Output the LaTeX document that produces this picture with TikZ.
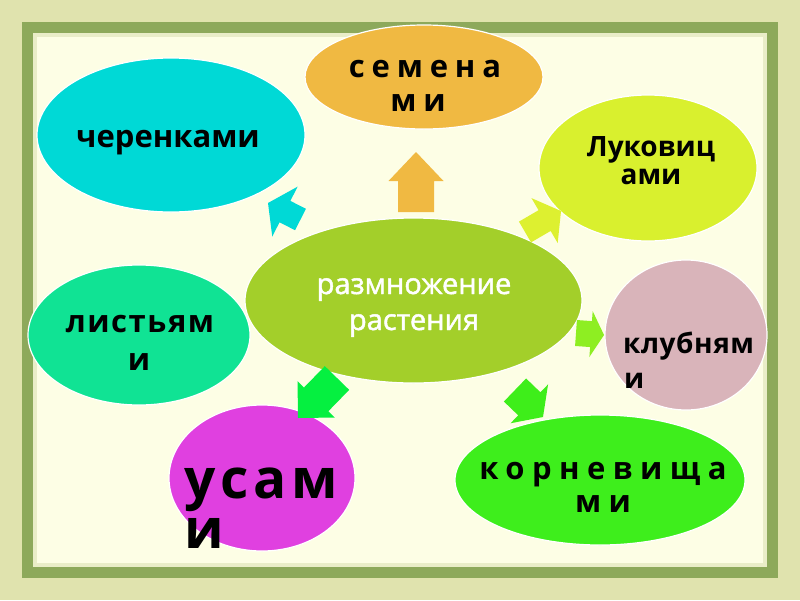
\documentclass[tikz,border=0pt]{standalone}
\usepackage{fontspec}
\setmainfont{Open Sans}
\usetikzlibrary{calc,shapes.geometric}
\definecolor{bgpat}{HTML}{E0E3AE}
\definecolor{frame}{HTML}{8DA95B}
\definecolor{bevel}{HTML}{E9EDC8}
\definecolor{panel}{HTML}{FDFEE5}
\definecolor{cCyan}{HTML}{00D9D6}
\definecolor{cOrange}{HTML}{F0B942}
\definecolor{cYellow}{HTML}{D9F02E}
\definecolor{cCenter}{HTML}{A3CF2A}
\definecolor{cTeal}{HTML}{10E394}
\definecolor{cPink}{HTML}{D9B4BA}
\definecolor{cMagenta}{HTML}{E040E0}
\definecolor{cGreen}{HTML}{3EEE1C}
\definecolor{aYellow}{HTML}{DDF030}
\definecolor{aLight}{HTML}{8EEE22}
\definecolor{aGreen}{HTML}{3EEE1A}
\definecolor{aBright}{HTML}{05F040}
\newcommand\blkarrow[6]{%
  \coordinate (ah) at ($(#2)!#5!(#1)$);
  \fill[#6] ($(#1)!#3!90:(#2)$) -- ($(ah)!#3!90:(#2)$) -- ($(ah)!#4!90:(#2)$)
    -- (#2) -- ($(ah)!#4!-90:(#2)$) -- ($(ah)!#3!-90:(#2)$) -- ($(#1)!#3!-90:(#2)$) -- cycle;}
\tikzset{
  blob/.style={ellipse, draw=white, line width=1.2pt, inner sep=0pt},
  lbl/.style={inner sep=0pt, text=black, font=\bfseries\fontsize{#1}{#1}\selectfont},
  lbl/.default=31,
  wlbl/.style={inner sep=0pt, text=white, anchor=base, font=\fontsize{29}{29}\selectfont\addfontfeature{FakeBold=1.6}}
}
\newcommand\ls[1]{\addfontfeature{LetterSpace=#1}}
\begin{document}
\begin{tikzpicture}[x=1pt,y=-1pt]
\useasboundingbox (0,0) rectangle (800,600);
% background and frame
\fill[bgpat] (0,0) rectangle (800,600);
\fill[frame] (22,22) rectangle (778,578);
\fill[bevel] (33,33) rectangle (767,567);
\fill[panel] (37,37) rectangle (763,563);
% ellipses
\node[blob, fill=cOrange, minimum width=238pt, minimum height=104pt] (sem) at (424,77) {};
\node[blob, fill=cCyan, minimum width=268pt, minimum height=154pt] (cher) at (171,135) {};
\node[blob, fill=cYellow, minimum width=218pt, minimum height=146pt] (luk) at (648,168) {};
\node[blob, fill=cTeal, minimum width=222pt, minimum height=140pt] (list) at (139,335) {};
\node[blob, fill=cPink, minimum width=162pt, minimum height=150pt] (klub) at (686,335) {};
\node[blob, fill=cMagenta, minimum width=186pt, minimum height=146pt] (us) at (262,478) {};
\node[blob, fill=cGreen, minimum width=290pt, minimum height=130pt] (kor) at (600,480) {};
\node[blob, fill=cCenter, minimum width=337pt, minimum height=165pt] (cen) at (413.5,300.5) {};
% arrows
\coordinate (a1t) at (416,212); \coordinate (a1h) at (416,152);
\coordinate (a2t) at (300.5,219.5); \coordinate (a2h) at (268,203);
\coordinate (a3t) at (525,232); \coordinate (a3h) at (561,211);
\coordinate (a4t) at (576,333); \coordinate (a4h) at (604,335);
\coordinate (a5t) at (515,390); \coordinate (a5h) at (543,417);
\coordinate (a6t) at (337,378); \coordinate (a6h) at (298,418);
\blkarrow{a1t}{a1h}{18pt}{27.5pt}{29pt}{cOrange}
\blkarrow{a2t}{a2h}{12pt}{28pt}{19pt}{cCyan}
\blkarrow{a3t}{a3h}{12pt}{26pt}{19pt}{aYellow}
\blkarrow{a4t}{a4h}{13pt}{23pt}{13pt}{aLight}
\blkarrow{a5t}{a5h}{16pt}{27pt}{19pt}{aGreen}
\blkarrow{a6t}{a6h}{17pt}{26pt}{26pt}{aBright}
% labels
\node[lbl=31, anchor=base] (tcher) at (168,147) {черенками};
\node[lbl=31, anchor=base] (tsem1) at (425,77) {\ls{22}семена};
\node[lbl=31, anchor=base] (tsem2) at (418,111) {\ls{22}ми};
\node[lbl=28, anchor=base] (tluk1) at (651,156) {Луковиц};
\node[lbl=28, anchor=base] (tluk2) at (651,184) {ами};
\node[lbl=31, anchor=base] (tlist1) at (140,332) {\ls{5}листьям};
\node[lbl=31, anchor=base] (tlist2) at (139,370) {и};
\node[lbl=28, anchor=base west] (tklub1) at (623,353) {\ls{2}клубням};
\node[lbl=28, anchor=base west] (tklub2) at (624,388) {и};
\node[lbl=55, anchor=base west] (tus1) at (184,498) {\ls{9}усам};
\node[lbl=55, anchor=base west] (tus2) at (184,548) {и};
\node[lbl=31, anchor=base] (tkor1) at (603,479) {\ls{24}корневища};
\node[lbl=31, anchor=base] (tkor2) at (603,512) {\ls{24}ми};
\node[wlbl] (tcen1) at (414,294) {размножение};
\node[wlbl] (tcen2) at (414,330) {растения};
\end{tikzpicture}
\end{document}
